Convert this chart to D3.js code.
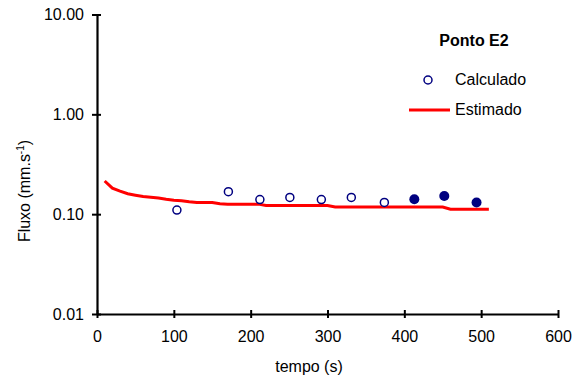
<!DOCTYPE html>
<meta charset="utf-8">
<head>
    <title>Ponto E2</title>
    <script src="https://cdn.jsdelivr.net/npm/d3@7"></script>
    <style>
        body { margin: 0; background: #fff; }
        text { font-family: "Liberation Sans", Arial, sans-serif; fill: #000; }
    </style>
</head>
<body>
<script>
    // data
    var calcTempo = [104, 171, 212, 251, 292, 331, 374];
    var calcFluxo = [0.110, 0.168, 0.140, 0.147, 0.140, 0.147, 0.131];
    var calcFullTempo = [413, 452, 494];
    var calcFullFluxo = [0.141, 0.152, 0.131];
    var estTempo = [10, 20, 30, 40, 50, 60, 70, 80, 90, 100, 110, 120, 130, 140, 150, 160, 170, 180, 190, 200, 210,
                    220, 230, 240, 250, 260, 270, 280, 290, 300, 310, 320, 330, 340, 350, 360, 370, 380, 390, 400,
                    410, 420, 430, 440, 450, 460, 470, 480, 490, 500, 510];
    var estFluxo = [0.215, 0.182, 0.170, 0.160, 0.155, 0.150, 0.148, 0.145, 0.141, 0.138, 0.136, 0.133, 0.131, 0.131,
                    0.131, 0.127, 0.126, 0.126, 0.126, 0.126, 0.126, 0.122, 0.122, 0.122, 0.122, 0.122, 0.122, 0.122,
                    0.122, 0.122, 0.118, 0.118, 0.118, 0.118, 0.118, 0.118, 0.118, 0.118, 0.118, 0.118, 0.118, 0.118,
                    0.118, 0.118, 0.118, 0.112, 0.112, 0.112, 0.112, 0.112, 0.112];
    var xTicks = [0, 100, 200, 300, 400, 500, 600];
    var yTicks = [0.01, 0.1, 1, 10];

    var width = 584, height = 387;
    var margin = {top: 14.5, right: 26, bottom: 73, left: 97};
    var fs = "16px";

    var svg = d3.select("body").append("svg")
        .attr("width", width)
        .attr("height", height);

    var x = d3.scaleLinear().domain([0, 600]).range([margin.left, width - margin.right]);
    var y = d3.scaleLog().domain([0.01, 10]).range([height - margin.bottom, margin.top]);

    // axes: ticks cross the line
    var xAxis = svg.append("g")
        .attr("transform", "translate(0," + y(0.01) + ")")
        .call(d3.axisBottom(x).tickValues(xTicks).tickSize(0).tickPadding(17).tickFormat(d3.format("d")));
    xAxis.select(".domain").attr("stroke-width", 2.2).attr("stroke", "#000");
    xAxis.selectAll("text").style("font-size", fs).attr("fill", "#000");
    xAxis.selectAll(".tick").append("line")
        .attr("y1", -4).attr("y2", 4).attr("stroke", "#000").attr("stroke-width", 2);

    var yAxis = svg.append("g")
        .attr("transform", "translate(" + x(0) + ",0)")
        .call(d3.axisLeft(y).tickValues(yTicks).tickSize(0).tickPadding(13).tickFormat(d3.format(".2f")));
    yAxis.select(".domain").attr("stroke-width", 2.2).attr("stroke", "#000");
    yAxis.selectAll("text").style("font-size", fs).attr("fill", "#000");
    yAxis.selectAll(".tick").append("line")
        .attr("x1", -5).attr("x2", 4).attr("stroke", "#000").attr("stroke-width", 2);

    // axis titles
    svg.append("text")
        .attr("x", 309).attr("y", 372)
        .attr("text-anchor", "middle")
        .style("font-size", fs)
        .text("tempo (s)");

    var yl = svg.append("text")
        .attr("transform", "translate(30,191) rotate(-90)")
        .attr("text-anchor", "middle")
        .style("font-size", fs);
    yl.append("tspan").text("Fluxo (mm.s");
    yl.append("tspan").attr("dy", -6).style("font-size", "10px").text("-1");
    yl.append("tspan").attr("dy", 6).text(")");

    // estimated line
    var est = estTempo.map((t, i) => ({t: t, f: estFluxo[i]}));
    svg.append("path")
        .datum(est)
        .attr("d", d3.line().x(d => x(d.t)).y(d => y(d.f)))
        .attr("fill", "none")
        .attr("stroke", "#ff0000")
        .attr("stroke-width", 3);

    // calculated points
    svg.selectAll(".calc")
        .data(calcTempo.map((t, i) => ({t: t, f: calcFluxo[i]})))
        .enter().append("circle")
        .attr("cx", d => x(d.t)).attr("cy", d => y(d.f))
        .attr("r", 4)
        .attr("fill", "#fff")
        .attr("stroke", "#000080")
        .attr("stroke-width", 1.5);

    svg.selectAll(".calcFull")
        .data(calcFullTempo.map((t, i) => ({t: t, f: calcFullFluxo[i]})))
        .enter().append("circle")
        .attr("cx", d => x(d.t)).attr("cy", d => y(d.f))
        .attr("r", 5)
        .attr("fill", "#000080");

    // legend
    svg.append("text")
        .attr("x", 474).attr("y", 46)
        .attr("text-anchor", "middle")
        .style("font-size", fs)
        .style("font-weight", "bold")
        .text("Ponto E2");
    svg.append("circle")
        .attr("cx", 428).attr("cy", 80).attr("r", 4)
        .attr("fill", "#fff").attr("stroke", "#000080").attr("stroke-width", 1.5);
    svg.append("text")
        .attr("x", 455).attr("y", 85)
        .style("font-size", fs)
        .text("Calculado");
    svg.append("line")
        .attr("x1", 409).attr("x2", 450).attr("y1", 110).attr("y2", 110)
        .attr("stroke", "#ff0000").attr("stroke-width", 3);
    svg.append("text")
        .attr("x", 455).attr("y", 115)
        .style("font-size", fs)
        .text("Estimado");
</script>
</body>
</html>
